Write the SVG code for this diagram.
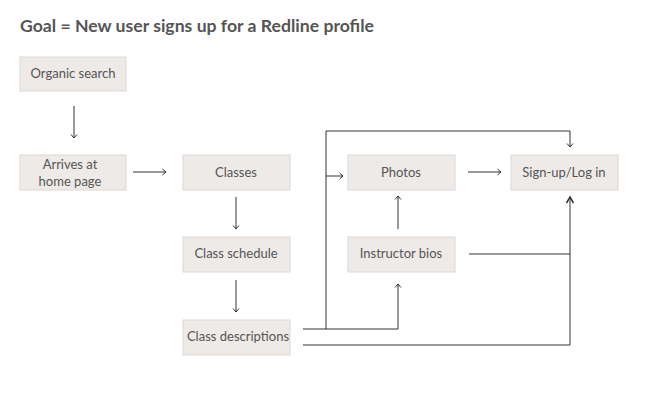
<svg xmlns="http://www.w3.org/2000/svg" width="652" height="410" viewBox="0 0 652 410">
<defs>
<style>
.box{fill:#eeeae8;stroke:#dcd8d6;stroke-width:1}
.lbl{font-family:Lato,"Open Sans","Liberation Sans",sans-serif;font-size:13px;fill:#555;text-anchor:middle}
.ttl{font-family:Lato,"Open Sans","Liberation Sans",sans-serif;font-size:17.6px;font-weight:bold;fill:#555}
.ln{fill:none;stroke:#333;stroke-width:1}
</style>
<marker id="ah" viewBox="-6 -5 8 10" markerWidth="8" markerHeight="10" refX="0" refY="0" orient="auto" markerUnits="userSpaceOnUse">
<path d="M-3.5,-3 L0,0 L-3.5,3" fill="none" stroke="#333" stroke-width="1"/>
</marker>
<marker id="ah2" viewBox="-8 -5 10 10" markerWidth="10" markerHeight="10" refX="0" refY="0" orient="auto" markerUnits="userSpaceOnUse">
<path d="M-6,-3.5 L0,0 L-6,3.5" fill="none" stroke="#333" stroke-width="1.5"/>
</marker>
</defs>
<rect width="652" height="410" fill="#fff"/>
<text class="ttl" x="20" y="32" textLength="354" lengthAdjust="spacingAndGlyphs">Goal = New user signs up for a Redline profile</text>
<g id="n-organic"><rect class="box" x="20" y="57" width="106" height="34"/><text class="lbl" x="73" y="78">Organic search</text></g>
<g id="n-arrives"><rect class="box" x="20" y="155" width="106" height="35"/><text class="lbl" x="70" y="169">Arrives at</text><text class="lbl" x="70" y="186">home page</text></g>
<g id="n-classes"><rect class="box" x="183" y="155" width="107" height="35"/><text class="lbl" x="236" y="177">Classes</text></g>
<g id="n-schedule"><rect class="box" x="183" y="237" width="107" height="35"/><text class="lbl" x="236" y="258">Class schedule</text></g>
<g id="n-descriptions"><rect class="box" x="183" y="320" width="107" height="35"/><text class="lbl" x="238" y="341">Class descriptions</text></g>
<g id="n-photos"><rect class="box" x="348" y="155" width="107" height="35"/><text class="lbl" x="401" y="177">Photos</text></g>
<g id="n-bios"><rect class="box" x="348" y="237" width="107" height="35"/><text class="lbl" x="401" y="258">Instructor bios</text></g>
<g id="n-signup"><rect class="box" x="511" y="155" width="107" height="35"/><text class="lbl" x="564" y="177">Sign-up/Log in</text></g>
<g id="connectors">
<path class="ln" d="M74,106 V138" marker-end="url(#ah)"/>
<path class="ln" d="M133,172 H166" marker-end="url(#ah)"/>
<path class="ln" d="M236,197 V229" marker-end="url(#ah)"/>
<path class="ln" d="M236,280 V312" marker-end="url(#ah)"/>
<path class="ln" d="M468,172 H501" marker-end="url(#ah)"/>
<path class="ln" d="M398,229 V196" marker-end="url(#ah)"/>
<path class="ln" d="M303,329 H398 V284" marker-end="url(#ah)"/>
<path class="ln" d="M326,329 V131 H570 V147" marker-end="url(#ah)"/>
<path class="ln" d="M326,176 H343" marker-end="url(#ah)"/>
<path class="ln" d="M303,345 H570 V197" marker-end="url(#ah2)"/>
<path class="ln" d="M469,254 H570"/>
</g>
</svg>
